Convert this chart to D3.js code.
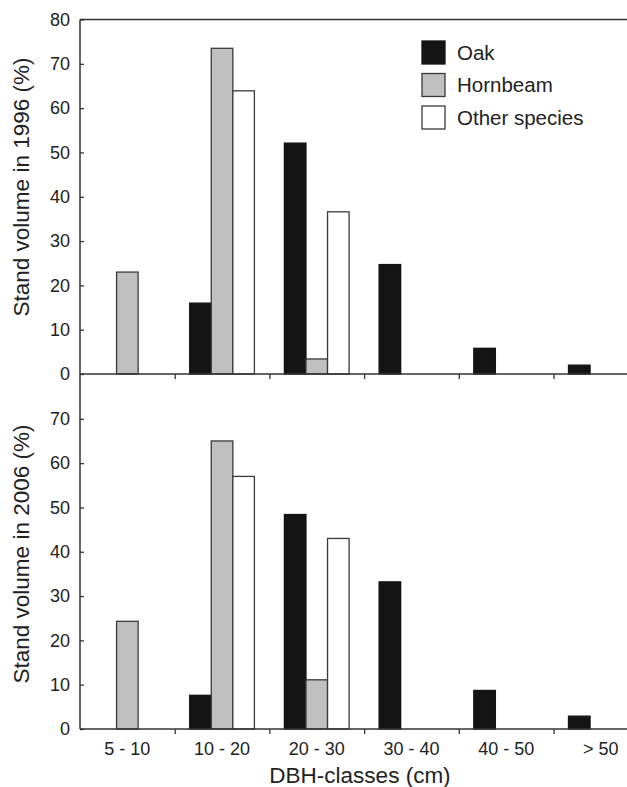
<!DOCTYPE html>
<html>
<head>
<meta charset="utf-8">
<script src="https://cdn.jsdelivr.net/npm/d3@7"></script>
<style>
  body { margin: 0; background: #fff; }
  svg { display: block; font-family: "Liberation Sans", Arial, sans-serif; }
</style>
</head>
<body>
<div id="chart"></div>
<script>
var width = 627,
    height = 787,
    left = 80,
    step = 94.7

var classes = ["5 - 10", "10 - 20", "20 - 30", "30 - 40", "40 - 50", "> 50"]
var species = ["Oak", "Hornbeam", "Other species"]
var yTicksTop = [0, 10, 20, 30, 40, 50, 60, 70, 80]
var yTicksBottom = [0, 10, 20, 30, 40, 50, 60, 70]

// stand volume (%) per DBH class
var oak1996 = [0, 16, 52.1, 24.7, 5.8, 2.0]
var hornbeam1996 = [23.0, 73.5, 3.4, 0, 0, 0]
var other1996 = [0, 63.9, 36.6, 0, 0, 0]

var oak2006 = [0, 7.6, 48.4, 33.2, 8.7, 2.9]
var hornbeam2006 = [24.3, 65, 11.1, 0, 0, 0]
var other2006 = [0, 57.0, 43.0, 0, 0, 0]

var fill = d3.scaleOrdinal().domain(species).range(["#141414", "#c0c0c0", "#ffffff"])
var stroke = d3.scaleOrdinal().domain(species).range(["#141414", "#3a3a3a", "#3a3a3a"])

var svg = d3.select("#chart").append("svg")
    .attr("width", width)
    .attr("height", height)

var x = d3.scaleBand().domain(classes).range([left, left + step * classes.length])
var xi = d3.scaleLinear().domain([0, classes.length]).range(x.range())
var xs = d3.scaleBand().domain(species).range([15, step - 15])

function panel(y0, y1, series, ticks, title, titleY, labels) {
    var y = d3.scaleLinear().domain([0, 80]).range([y0, y1])
    var g = svg.append("g")

    var rows = []
    classes.forEach(function(c, i) {
        species.forEach(function(s, j) {
            if (series[j][i] > 0) rows.push({c: c, s: s, v: series[j][i]})
        })
    })

    g.selectAll(".bar").data(rows).enter().append("rect")
        .attr("class", "bar")
        .attr("x", function(d) { return x(d.c) + xs(d.s) })
        .attr("width", xs.bandwidth())
        .attr("y", function(d) { return y(d.v) })
        .attr("height", function(d) { return y0 - y(d.v) })
        .attr("fill", function(d) { return fill(d.s) })
        .attr("stroke", function(d) { return stroke(d.s) })
        .attr("stroke-width", 1.3)

    // boundary ticks on x axis
    var xa = g.append("g")
        .attr("transform", "translate(0," + y0 + ")")
        .call(d3.axisBottom(xi).tickValues([1, 2, 3, 4, 5]).tickSize(5).tickFormat(""))
    xa.select(".domain").remove()
    xa.selectAll("line").attr("stroke", "#333").attr("stroke-width", 1.3)

    g.append("line")
        .attr("x1", left).attr("x2", width)
        .attr("y1", y0).attr("y2", y0)
        .attr("stroke", "#333").attr("stroke-width", 1.5)

    if (labels) {
        var xl = g.append("g")
            .attr("transform", "translate(0," + y0 + ")")
            .call(d3.axisBottom(x).tickSize(0).tickPadding(13))
        xl.select(".domain").remove()
        xl.selectAll("text").attr("font-size", 18).attr("fill", "#222")
            .attr("font-family", "Liberation Sans, Arial, sans-serif")
    }

    var ya = g.append("g")
        .attr("transform", "translate(" + left + ",0)")
        .call(d3.axisLeft(y).tickValues(ticks).tickSize(-4).tickPadding(10))
    ya.select(".domain").remove()
    ya.selectAll("line").attr("stroke", "#333").attr("stroke-width", 1.3)
    ya.selectAll("text").attr("font-size", 18).attr("fill", "#222")
        .attr("font-family", "Liberation Sans, Arial, sans-serif")

    g.append("text")
        .attr("transform", "translate(29," + titleY + ")rotate(-90)")
        .attr("text-anchor", "middle")
        .attr("font-size", 22.5)
        .attr("fill", "#222")
        .text(title)
}

panel(374, 19.5, [oak1996, hornbeam1996, other1996], yTicksTop, "Stand volume in 1996 (%)", 187, false)
panel(729, 374.5, [oak2006, hornbeam2006, other2006], yTicksBottom, "Stand volume in 2006 (%)", 554, true)

// frame: top border and left axis
svg.append("line")
    .attr("x1", left).attr("x2", width)
    .attr("y1", 19.5).attr("y2", 19.5)
    .attr("stroke", "#333").attr("stroke-width", 1.5)
svg.append("line")
    .attr("x1", left).attr("x2", left)
    .attr("y1", 19.5).attr("y2", 729)
    .attr("stroke", "#333").attr("stroke-width", 1.5)

svg.append("text")
    .attr("x", 360)
    .attr("y", 783)
    .attr("text-anchor", "middle")
    .attr("font-size", 22.5)
    .attr("fill", "#222")
    .text("DBH-classes (cm)")

// legend
var legend = svg.append("g").attr("transform", "translate(422,41)")
var item = legend.selectAll(".item").data(species).enter().append("g")
    .attr("transform", function(d, i) { return "translate(0," + i * 32.5 + ")" })
item.append("rect")
    .attr("width", 23).attr("height", 23)
    .attr("fill", function(d) { return fill(d) })
    .attr("stroke", function(d) { return stroke(d) })
    .attr("stroke-width", 1.3)
item.append("text")
    .attr("x", 35)
    .attr("y", 11.5)
    .attr("dy", "0.36em")
    .attr("font-size", 20.5)
    .attr("fill", "#222")
    .text(function(d) { return d })
</script>
</body>
</html>
